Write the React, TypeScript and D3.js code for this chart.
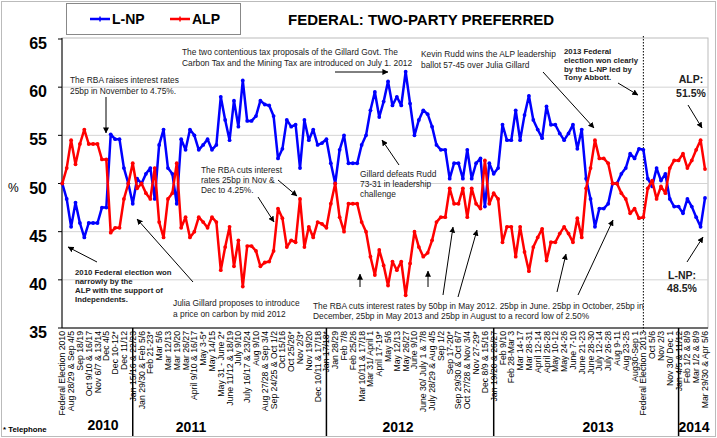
import React from 'react';
import * as d3 from 'd3';

// L-NP two-party preferred (%), one value per poll
const lnp: number[] = [
  50.0, 48.4, 45.5, 48.0, 45.9, 44.4, 45.9, 45.9, 45.9, 47.5, 47.5, 55.1, 54.6, 54.6, 51.6, 50.0,
  47.9, 50.5, 50.0, 51.0, 51.6, 48.4, 54.0, 55.6, 51.6, 51.0, 47.9, 54.6, 53.5, 55.6, 55.0, 53.5,
  54.0, 54.6, 53.5, 54.0, 59.0, 56.6, 54.5, 58.6, 55.9, 60.7, 56.5, 56.5, 57.0, 58.6, 58.2, 58.1,
  57.0, 52.6, 53.6, 56.6, 55.9, 56.1, 51.6, 56.6, 54.5, 55.6, 54.0, 54.2, 54.6, 52.1, 50.0, 53.5,
  55.0, 52.1, 52.1, 52.1, 54.0, 55.0, 57.6, 59.5, 56.9, 58.5, 60.6, 58.1, 59.0, 58.1, 61.6, 58.3,
  55.0, 56.6, 57.6, 57.2, 55.9, 54.0, 53.5, 53.5, 50.5, 52.1, 52.1, 50.5, 53.5, 50.5, 52.1, 52.6,
  47.6, 52.1, 51.0, 51.6, 56.1, 54.5, 54.5, 57.6, 54.5, 57.1, 59.1, 56.6, 55.6, 54.7, 58.0, 56.1,
  56.1, 55.2, 54.5, 55.2, 56.1, 53.6, 55.6, 50.5, 48.4, 45.5, 47.4, 47.4, 47.9, 50.0, 50.0, 51.0,
  51.6, 53.1, 52.6, 53.6, 53.5, 50.5, 49.7, 51.6, 50.3, 51.0, 48.4, 47.6, 47.6, 46.9, 48.4, 47.6,
  46.5, 45.5, 48.5,
];

// ALP two-party preferred (%)
const alp: number[] = [
  50.0, 51.6, 54.5, 52.0, 54.1, 55.6, 54.1, 54.1, 54.1, 52.5, 52.5, 44.9, 45.4, 45.4, 48.4, 50.0,
  52.1, 49.5, 50.0, 49.0, 48.4, 51.6, 46.0, 44.4, 48.4, 49.0, 52.1, 45.4, 46.5, 44.4, 45.0, 46.5,
  46.0, 45.4, 46.5, 46.0, 41.0, 43.4, 45.5, 41.4, 44.1, 39.3, 43.5, 43.5, 43.0, 41.4, 41.8, 41.9,
  43.0, 47.4, 46.4, 43.4, 44.1, 43.9, 48.4, 43.4, 45.5, 44.4, 46.0, 45.8, 45.4, 47.9, 50.0, 46.5,
  45.0, 47.9, 47.9, 47.9, 46.0, 45.0, 42.4, 40.5, 43.1, 41.5, 39.4, 41.9, 41.0, 41.9, 38.4, 41.7,
  45.0, 43.4, 42.4, 42.8, 44.1, 46.0, 46.5, 46.5, 49.5, 47.9, 47.9, 49.5, 46.5, 49.5, 47.9, 47.4,
  52.4, 47.9, 49.0, 48.4, 43.9, 45.5, 45.5, 42.4, 45.5, 42.9, 40.9, 43.4, 44.4, 45.3, 42.0, 43.9,
  43.9, 44.8, 45.5, 44.8, 43.9, 46.4, 44.4, 49.5, 51.6, 54.5, 52.6, 52.6, 52.1, 50.0, 50.0, 49.0,
  48.4, 46.9, 47.4, 46.4, 46.5, 49.5, 50.3, 48.4, 49.7, 49.0, 51.6, 52.4, 52.4, 53.1, 51.6, 52.4,
  53.5, 54.5, 51.5,
];

// category labels, shown on every second poll
const tickLabels: string[] = [
  'Federal Election 2010', 'Aug 28/29 & Sep 4/5', 'Sep 18/19', 'Oct 9/10 & 16/17', 'Nov 6/7 & 13/14',
  'Dec 4/5', 'Dec 10-12*', 'Dec 11/12',
  'Jan 15/16 & 22/23', 'Jan 29/30 & Feb 5/6', 'Feb 21-23*', 'Mar 5/6', 'Mar 12/13', 'Mar 19/20',
  'Mar 26/27', 'April 9/10 & 16/17', 'May 3-5*', 'May 14/15', 'May 31 - June 2*', 'June 11/12 & 18/19',
  'July 9/10', 'July 16/17 & 23/24', 'Aug 9/10', 'Aug 27/28 & Sep 3/4', 'Sep 24/25 & Oct 1/2',
  'Oct 15/16', 'Oct 25/26*', 'Nov 2/3*', 'Nov 19/20', 'Dec 10/11 & 17/18',
  'Jan 17/18*', 'Jan 28/29', 'Feb 7/8', 'Feb 25/26', 'Mar 10/11 & 17/18', 'Mar 31/ April 1',
  'April 17-19*', 'May 5/6', 'May 12/13', 'May 26/27', 'June 9/10', 'June 30/ July 1 & 7/8',
  'July 28/29 & Aug 4/5', 'Sep 1/2', 'Sep 17-20*', 'Sep 29/30 & Oct 6/7', 'Oct 27/28 & Nov 3/4',
  'Nov 27-29*', 'Dec 8/9 & 15/16',
  'Jan 19/20 & 26/27', 'Feb 9/10', 'Feb 28-Mar 3', 'Mar 14-17', 'Mar 28-31', 'April 12-14',
  'April 26-28', 'May 10-12', 'May 24-26', 'June 7-10', 'June 21-23', 'June 28-30', 'July 12-14',
  'July 26-28', 'Aug 9-11', 'Aug 23-25', 'Aug30-Sep 1', 'Federal Election 2013', 'Oct 5/6',
  'Nov 2/3', 'Nov 30/ Dec 1',
  'Jan 4/5 & 11/12', 'Feb 1/2 & 8/9', 'Mar 1/2 & 8/9', 'Mar 29/30 & Apr 5/6',
];

const years: string[] = ['2010', '2011', '2012', '2013', '2014'];
const yearStartLabel: number[] = [0, 8, 30, 49, 70];
const yearLabelX: number[] = [103, 191, 398, 598, 694];
const yTicks: number[] = [35, 40, 45, 50, 55, 60, 65];
const election2013 = 'Federal Election 2013';

const FONT = 'Liberation Sans, Arial, sans-serif';
const BLUE = '#0000ff';
const RED = '#ff0000';

type Note = { x: number; y: number; lines: string[]; bold?: boolean; size?: number; anchor?: string; lh?: number };

const notes: Note[] = [
  { x: 70, y: 83, lines: ['The RBA raises interest rates', '25bp in November to 4.75%.'] },
  { x: 182, y: 55, lines: ['The two contentious tax proposals of the Gillard Govt. The', 'Carbon Tax and the Mining Tax are introduced on July 1. 2012'] },
  { x: 421, y: 57, lines: ['Kevin Rudd wins the ALP leadership', 'ballot 57-45 over Julia Gillard'] },
  { x: 564, y: 54, bold: true, size: 7.8, lh: 8.8, lines: ['2013 Federal', 'election won clearly', 'by the L-NP led by', 'Tony Abbott.'] },
  { x: 691, y: 83, bold: true, size: 10.5, lh: 13.5, anchor: 'middle', lines: ['ALP:', '51.5%'] },
  { x: 682, y: 279, bold: true, size: 10.5, lh: 13, anchor: 'middle', lines: ['L-NP:', '48.5%'] },
  { x: 201, y: 173, lh: 10, lines: ['The RBA cuts interest', 'rates 25bp in Nov &', 'Dec to 4.25%.'] },
  { x: 360, y: 177, lh: 10, lines: ['Gillard defeats Rudd', '73-31 in leadership', 'challenge'] },
  { x: 75, y: 275, bold: true, size: 7.8, lh: 9, lines: ['2010 Federal election won', 'narrowly by the', 'ALP with the support of', 'Independents.'] },
  { x: 173, y: 306, lines: ['Julia Gillard proposes to introduce', 'a price on carbon by mid 2012'] },
  { x: 313, y: 309, lh: 9.5, lines: ['The RBA cuts interest rates by 50bp in May 2012. 25bp in June. 25bp in October, 25bp in', 'December, 25bp in May 2013 and 25bp in August to a record low of 2.50%'] },
];

const arrows: [number, number, number, number][] = [
  [106, 97, 106, 133],
  [335, 72, 388, 72],
  [543, 72, 594, 128],
  [618, 83, 638, 95],
  [688, 105, 702, 128],
  [687, 262, 703, 237],
  [278, 180, 297, 196],
  [258, 197, 274, 222],
  [399, 165, 382, 140],
  [97, 262, 68, 247],
  [193, 282, 137, 219],
  [360, 287, 360, 274],
  [428, 287, 428, 271],
  [443, 295, 453, 227],
  [458, 297, 477, 230],
  [557, 292, 566, 254],
  [578, 295, 613, 220],
];

const W = 717;
const H = 438;
const plot = { left: 62, right: 708, top: 38, bottom: 328 };

const App: React.FC = () => {
  const x = d3.scaleLinear().domain([0, lnp.length - 1]).range([62.3, 705]);
  const y = d3.scaleLinear().domain([35, 65]).range([plot.bottom, 39]);

  const line = d3
    .line<number>()
    .x((_, i) => x(i))
    .y((d) => y(d));

  const electionIdx = tickLabels.indexOf(election2013) * 2;

  const series = [
    { name: 'L-NP', values: lnp, color: BLUE },
    { name: 'ALP', values: alp, color: RED },
  ];

  return (
    <svg width={W} height={H} style={{ position: 'absolute', left: 0, top: 0, background: '#fff' }} fontFamily={FONT}>
      <defs>
        <marker id="arr" viewBox="0 0 8 8" refX="7.5" refY="4" markerWidth="6" markerHeight="6" orient="auto">
          <path d="M0,0 L8,4 L0,8 z" fill="#000" />
        </marker>
      </defs>
      <rect x={0} y={0} width={W} height={H} fill="#fff" />
      <rect x={1.5} y={1.5} width={W - 3} height={H - 3} fill="none" stroke="#777" strokeDasharray="1,1" />

      {/* legend */}
      <rect x={66.5} y={3.5} width={174} height={31} fill="#fff" stroke="#888" />
      {series.map((s, j) => (
        <g key={s.name} transform={`translate(${j === 0 ? 90 : 170},19)`}>
          <line x1={0} x2={20} y1={0} y2={0} stroke={s.color} strokeWidth={2.5} />
          <line x1={10} x2={10} y1={-2.5} y2={2.5} stroke={s.color} strokeWidth={1.5} />
          <text x={j === 0 ? 22 : 22} y={5} fontSize={14} fontWeight="bold">{s.name}</text>
        </g>
      ))}
      <text x={288} y={25} fontSize={15} fontWeight="bold">FEDERAL: TWO-PARTY PREFERRED</text>

      {/* plot area */}
      <rect x={plot.left} y={plot.top} width={plot.right - plot.left} height={plot.bottom - plot.top} fill="none" stroke="#bbb" />
      {yTicks.filter((t) => t > 35 && t < 65).map((t) => (
        <line key={t} x1={plot.left} x2={plot.right} y1={y(t)} y2={y(t)} stroke="#d4d4d4" />
      ))}
      <line x1={plot.left} x2={plot.left} y1={plot.top} y2={plot.bottom} stroke="#000" />
      <line x1={plot.left} x2={plot.right} y1={plot.bottom} y2={plot.bottom} stroke="#000" />
      {yTicks.map((t) => (
        <g key={t}>
          <line x1={plot.left - 4} x2={plot.left} y1={y(t)} y2={y(t)} stroke="#000" />
          <text x={47} y={y(t) + 10} fontSize={16} fontWeight="bold" textAnchor="end">{t}</text>
        </g>
      ))}
      <text x={8} y={192} fontSize={12}>%</text>

      {/* election 2013 marker */}
      <line x1={x(electionIdx)} x2={x(electionIdx)} y1={36} y2={333} stroke="#000" strokeDasharray="1.5,1.5" />

      {/* series */}
      {series.map((s) => (
        <g key={s.name}>
          <path d={line(s.values) || ''} fill="none" stroke={s.color} strokeWidth={2.5} strokeLinejoin="round" />
          {s.values.map((v, i) => (
            <circle key={i} cx={x(i)} cy={y(v)} r={1.9} fill={s.color} />
          ))}
        </g>
      ))}

      {/* annotations */}
      {notes.map((n, j) => (
        <text key={j} x={n.x} y={n.y} fontSize={n.size ?? 8.4} fontWeight={n.bold ? 'bold' : 'normal'} fill="#222" textAnchor={n.anchor ?? 'start'}>
          {n.lines.map((l, k) => (
            <tspan key={k} x={n.x} dy={k === 0 ? 0 : n.lh ?? 10.5}>{l}</tspan>
          ))}
        </text>
      ))}
      {arrows.map(([x1, y1, x2, y2], j) => (
        <line key={j} x1={x1} y1={y1} x2={x2} y2={y2} stroke="#000" strokeWidth={1} markerEnd="url(#arr)" />
      ))}

      {/* category labels */}
      {tickLabels.map((l, k) => (
        <text key={k} transform={`translate(${x(k * 2) + 3},331) rotate(-90)`} fontSize={8.7} textAnchor="end">{l}</text>
      ))}

      {/* year bands */}
      {yearStartLabel.slice(1).map((k) => (
        <line key={k} x1={x(k * 2)} x2={x(k * 2)} y1={plot.bottom} y2={436} stroke="#000" strokeWidth={1.5} />
      ))}
      {years.map((yr, j) => (
        <text key={yr} x={yearLabelX[j]} y={j === 0 ? 430 : 432} fontSize={14} fontWeight="bold" textAnchor="middle">{yr}</text>
      ))}
      <text x={3} y={432} fontSize={7.8} fontWeight="bold">* Telephone</text>
    </svg>
  );
};

export default App;
